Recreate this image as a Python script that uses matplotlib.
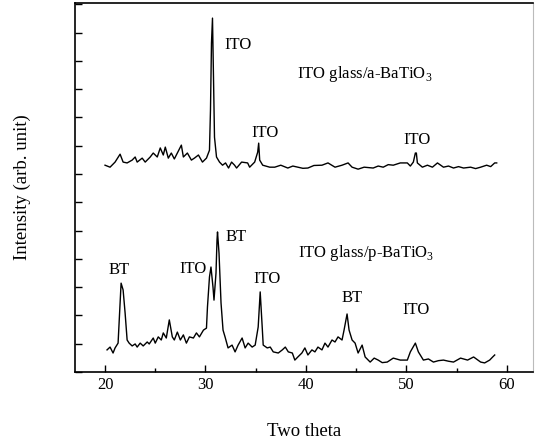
import numpy as np
import matplotlib.pyplot as plt
from matplotlib.ticker import MultipleLocator

plt.rcParams['font.family'] = ['Liberation Serif', 'DejaVu Serif']
plt.rcParams['mathtext.fontset'] = 'custom'
plt.rcParams['mathtext.rm'] = 'Liberation Serif'

# ITO glass / a-BaTiO3 (upper pattern)
two_theta_a = [20.0, 20.5, 21.0, 21.5, 21.8, 22.2, 22.7, 23.0, 23.2, 23.7, 24.0, 24.5,
               24.8, 25.2, 25.5, 25.8, 26.0, 26.3, 26.6, 26.9, 27.2, 27.6, 27.8, 28.2,
               28.6, 28.9, 29.3, 29.7, 30.1, 30.4, 30.5, 30.6, 30.7, 30.8, 30.9, 31.1,
               31.4, 31.7, 32.0, 32.3, 32.6, 32.9, 33.1, 33.6, 34.2, 34.4, 34.9, 35.2,
               35.3, 35.4, 35.7, 36.4, 36.9, 37.5, 38.2, 38.7, 39.2, 39.7, 40.2, 40.8,
               41.6, 42.2, 42.9, 43.6, 44.2, 44.6, 45.2, 45.8, 46.7, 47.2, 47.7, 48.2,
               48.7, 49.4, 50.1, 50.4, 50.7, 50.9, 51.0, 51.1, 51.6, 52.1, 52.6, 53.1,
               53.7, 54.2, 54.7, 55.2, 55.7, 56.4, 56.9, 57.4, 58.0, 58.4, 58.8, 59.0]
intensity_a = [7.31, 7.24, 7.42, 7.70, 7.42, 7.39, 7.49, 7.60, 7.42, 7.56, 7.42, 7.60,
               7.74, 7.60, 7.92, 7.67, 7.95, 7.56, 7.74, 7.53, 7.74, 8.02, 7.60, 7.74,
               7.49, 7.56, 7.67, 7.42, 7.56, 7.84, 9.26, 11.63, 12.51, 10.42, 8.30, 7.60,
               7.42, 7.31, 7.39, 7.21, 7.42, 7.31, 7.21, 7.42, 7.39, 7.24, 7.42, 7.77,
               8.09, 7.49, 7.31, 7.24, 7.24, 7.31, 7.21, 7.28, 7.24, 7.20, 7.21, 7.30,
               7.31, 7.39, 7.24, 7.31, 7.39, 7.24, 7.17, 7.24, 7.21, 7.28, 7.24, 7.33,
               7.31, 7.39, 7.39, 7.28, 7.42, 7.74, 7.74, 7.39, 7.24, 7.31, 7.24, 7.39,
               7.24, 7.28, 7.21, 7.26, 7.21, 7.24, 7.19, 7.24, 7.31, 7.26, 7.39, 7.39]

# ITO glass / p-BaTiO3 (lower pattern)
two_theta_p = [20.2, 20.5, 20.8, 21.0, 21.3, 21.6, 21.8, 22.0, 22.2, 22.4, 22.7, 23.0,
               23.2, 23.5, 23.8, 24.2, 24.4, 24.8, 25.0, 25.3, 25.6, 25.8, 26.1, 26.4,
               26.7, 26.9, 27.2, 27.5, 27.8, 28.1, 28.4, 28.8, 29.1, 29.4, 29.8, 30.1,
               30.2, 30.4, 30.55, 30.75, 30.85, 31.05, 31.15, 31.2, 31.35, 31.55, 31.75, 31.95,
               32.25, 32.65, 32.95, 33.25, 33.65, 33.95, 34.25, 34.65, 34.95, 35.25, 35.45, 35.65,
               35.75, 36.15, 36.45, 36.75, 37.25, 37.65, 37.95, 38.25, 38.65, 38.9, 39.2, 39.6,
               39.9, 40.2, 40.6, 40.9, 41.2, 41.6, 41.9, 42.2, 42.6, 42.9, 43.2, 43.6,
               43.8, 44.1, 44.3, 44.6, 44.9, 45.2, 45.6, 45.9, 46.4, 46.8, 47.2, 47.6,
               48.1, 48.7, 49.4, 50.1, 50.4, 50.9, 51.2, 51.7, 52.2, 52.7, 53.2, 53.7,
               54.2, 54.7, 55.4, 56.1, 56.7, 57.4, 57.8, 58.3, 58.6, 58.8]
intensity_p = [0.78, 0.88, 0.67, 0.85, 1.02, 3.14, 2.90, 2.08, 1.13, 1.02, 0.92, 0.99,
               0.88, 1.02, 0.92, 1.06, 0.99, 1.20, 1.02, 1.24, 1.13, 1.38, 1.20, 1.84,
               1.24, 1.13, 1.41, 1.13, 1.31, 1.02, 1.24, 1.20, 1.38, 1.24, 1.48, 1.55,
               2.30, 3.36, 3.71, 3.00, 2.54, 3.50, 4.66, 4.95, 4.20, 2.44, 1.48, 1.24,
               0.85, 0.95, 0.71, 0.95, 1.20, 0.85, 1.02, 0.88, 0.95, 1.59, 2.83, 1.59,
               0.95, 0.85, 0.88, 0.71, 0.67, 0.78, 0.88, 0.71, 0.67, 0.42, 0.53, 0.67,
               0.85, 0.60, 0.78, 0.71, 0.88, 0.78, 1.02, 0.88, 1.13, 1.06, 1.24, 1.13,
               1.48, 2.05, 1.48, 1.13, 1.02, 0.67, 0.95, 0.53, 0.35, 0.49, 0.42, 0.33,
               0.35, 0.49, 0.42, 0.42, 0.71, 1.02, 0.71, 0.42, 0.46, 0.35, 0.40, 0.42,
               0.38, 0.35, 0.49, 0.42, 0.53, 0.35, 0.32, 0.42, 0.53, 0.60]

# peak labels: (text, x, y)
labels_a = [("ITO", 31.85, 11.55), ("ITO", 34.6, 8.45), ("ITO", 49.7, 8.2)]
labels_p = [("BT", 20.3, 3.6), ("ITO", 27.4, 3.65), ("BT", 31.95, 4.77),
            ("ITO", 34.75, 3.3), ("BT", 43.5, 2.6), ("ITO", 49.6, 2.2)]

fig = plt.figure(figsize=(5.35, 4.46), dpi=100)
ax = fig.add_axes([0.140, 0.166, 0.856, 0.827])

ax.plot(two_theta_a, intensity_a, color='black', lw=1.0)
ax.plot(two_theta_p, intensity_p, color='black', lw=1.0)

for txt, x, y in labels_a + labels_p:
    ax.text(x, y, txt, fontsize=12, ha='left', va='center')

ax.text(39.1, 10.55, r'ITO glass/a-BaTiO$_3$', fontsize=12, ha='left', va='center')
ax.text(39.2, 4.2, r'ITO glass/p-BaTiO$_3$', fontsize=12, ha='left', va='center')

ax.set_xlim(17.0, 62.6)
ax.set_ylim(0, 13.04)
ax.xaxis.set_major_locator(MultipleLocator(10))
ax.xaxis.set_minor_locator(MultipleLocator(5))
ax.yaxis.set_major_locator(MultipleLocator(1))
ax.set_yticklabels([])
ax.tick_params(axis='both', which='major', direction='in', length=5, width=1.0,
               labelsize=12, top=False, right=False)
ax.tick_params(axis='x', which='minor', direction='in', length=3, width=1.0, top=False)
ax.tick_params(axis='y', which='both', left=True, length=5)

for s in ['left', 'bottom', 'top']:
    ax.spines[s].set_linewidth(1.2)
ax.spines['right'].set_color('#bbbbbb')
ax.spines['right'].set_linewidth(0.8)

ax.set_xlabel('Two theta', fontsize=13.5, labelpad=22)
ax.set_ylabel('Intensity (arb. unit)', fontsize=13.5, labelpad=28)

fig.savefig('out.png', dpi=100)
